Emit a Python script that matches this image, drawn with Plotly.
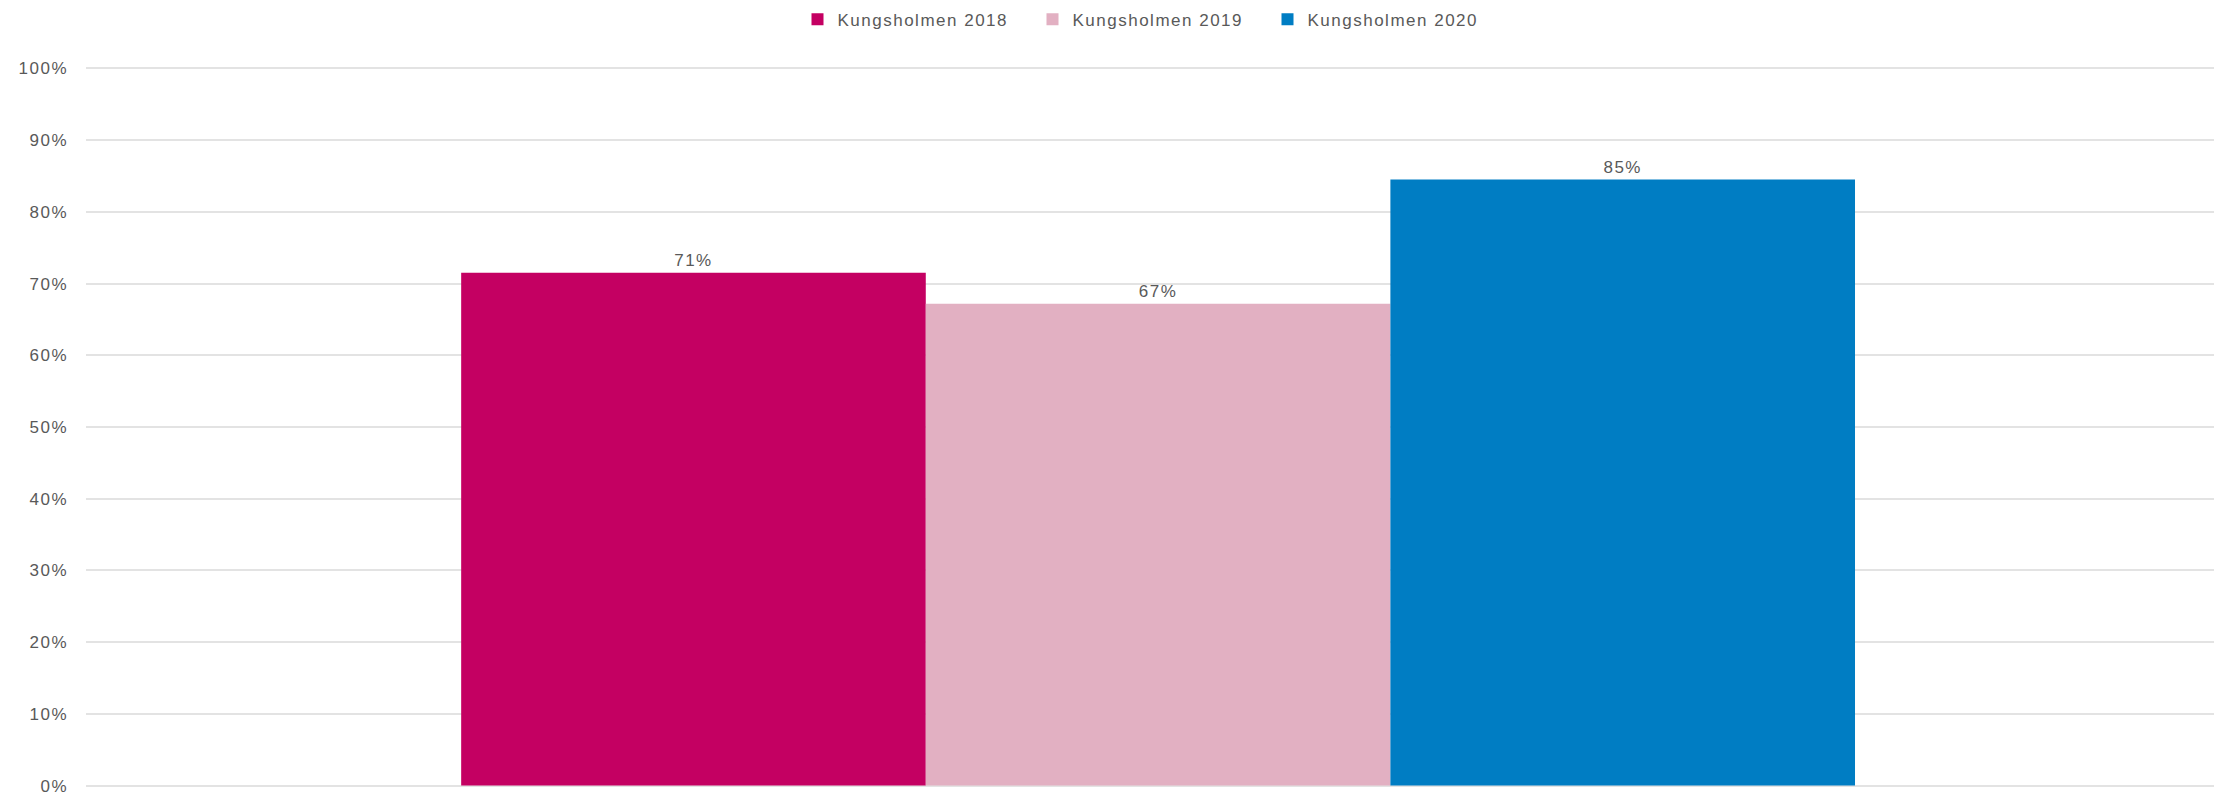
import plotly.graph_objects as go

categories = [""]
series_names = ["Kungsholmen 2018", "Kungsholmen 2019", "Kungsholmen 2020"]
values_2018 = [0.715]
values_2019 = [0.672]
values_2020 = [0.845]
labels_2018 = ["71%"]
labels_2019 = ["67%"]
labels_2020 = ["85%"]
colors = ["#C40062", "#E2B0C2", "#007DC3"]
y_ticks = [0, 0.1, 0.2, 0.3, 0.4, 0.5, 0.6, 0.7, 0.8, 0.9, 1.0]
y_tick_labels = ["0%", "10%", "20%", "30%", "40%", "50%", "60%", "70%", "80%", "90%", "100%"]

font_family = "Liberation Sans, Arial, sans-serif"
text_color = "#595959"

fig = go.Figure()
for name, vals, labs, col in zip(series_names,
                                 [values_2018, values_2019, values_2020],
                                 [labels_2018, labels_2019, labels_2020],
                                 colors):
    fig.add_trace(go.Bar(
        x=categories, y=vals, name=name, marker=dict(color=col, line=dict(width=0)),
        text=labs, textposition="outside", cliponaxis=False,
        textfont=dict(size=17, color=text_color, family=font_family),
    ))

fig.update_layout(
    width=2214, height=792,
    margin=dict(l=86, r=0, t=67, b=5, autoexpand=False),
    paper_bgcolor="white", plot_bgcolor="white",
    barmode="group", bargap=0.345, bargroupgap=0,
    font=dict(family=font_family, size=17, color=text_color),
    legend=dict(orientation="h", x=0.5, xanchor="center", y=0.998, yanchor="top",
                yref="container", font=dict(size=17, color=text_color),
                itemwidth=30, traceorder="normal",
                entrywidth=190, entrywidthmode="pixels"),
    showlegend=True,
)
fig.update_xaxes(showticklabels=False, showgrid=False, zeroline=False,
                 showline=False, range=[-0.5038, 0.4962], automargin=False)
fig.update_yaxes(range=[-0.002, 1.002], tickvals=y_ticks, ticktext=y_tick_labels,
                 showgrid=True, gridcolor="#E3E3E3", gridwidth=1.5,
                 zeroline=False, showline=False, ticks="", automargin=False,
                 ticklabelstandoff=17, ticklabeloverflow="allow",
                 tickfont=dict(size=17, color=text_color, family=font_family))

post = ("var s=document.createElement('style');"
        "s.innerHTML='.main-svg text{letter-spacing:1.5px}';"
        "document.head.appendChild(s);")
fig.write_html("out.html", post_script=post)
